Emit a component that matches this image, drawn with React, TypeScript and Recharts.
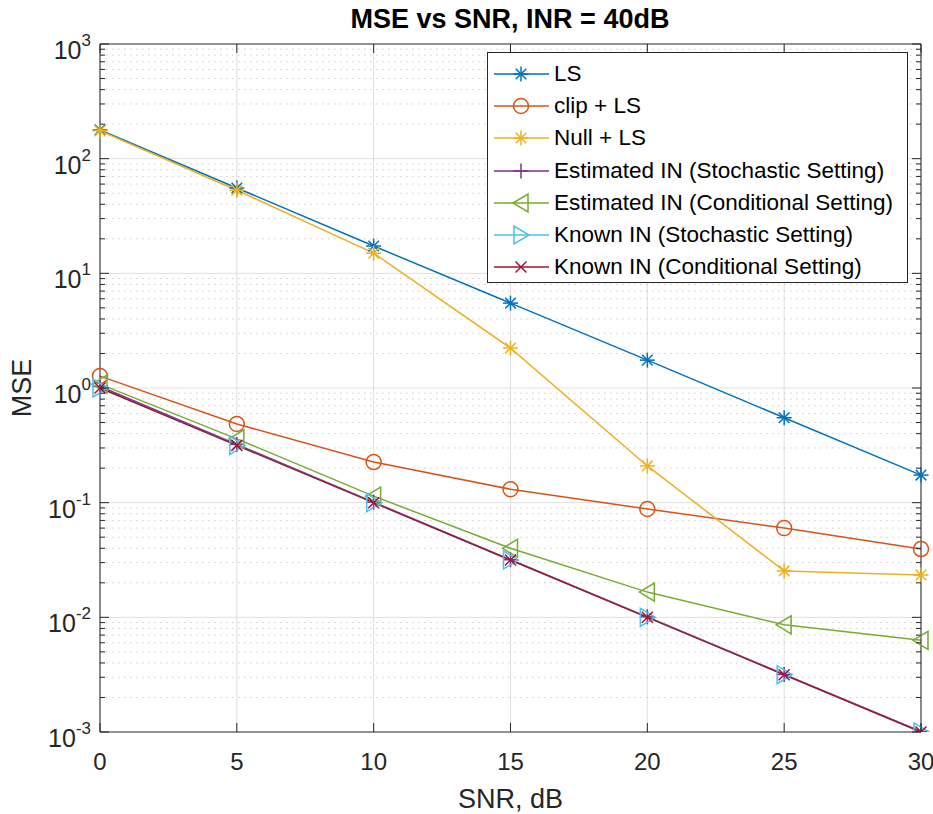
import { LineChart, Line, XAxis, YAxis, CartesianGrid, ReferenceLine, Legend } from "recharts";

const snr = [0, 5, 10, 15, 20, 25, 30];
const lsMse = [178, 55.5, 17.3, 5.5, 1.75, 0.55, 0.174];
const clipMse = [1.27, 0.485, 0.226, 0.131, 0.088, 0.06, 0.0394];
const nullMse = [175, 53, 15, 2.23, 0.209, 0.0254, 0.0234];
const estStochMse = [1.03, 0.322, 0.101, 0.0318, 0.0101, 0.00318, 0.00101];
const estCondMse = [1.08, 0.36, 0.114, 0.04, 0.0166, 0.0086, 0.0063];
const knownStochMse = [1.0, 0.316, 0.1, 0.0316, 0.01, 0.00316, 0.001];
const knownCondMse = [1.0, 0.316, 0.1, 0.0316, 0.01, 0.00316, 0.001];

const xTicks = [0, 5, 10, 15, 20, 25, 30];
const majorExps = [-3, -2, -1, 0, 1, 2, 3];
const majorTicks = majorExps.map((e) => Math.pow(10, e));
const minorTicks = majorExps.slice(0, -1).flatMap((e) =>
  [2, 3, 4, 5, 6, 7, 8, 9].map((m) => m * Math.pow(10, e))
);
const yTicks = [...majorTicks, ...minorTicks].sort((a, b) => a - b);

const FONT = '"Liberation Sans", Arial, Helvetica, sans-serif';
const AXIS = "#262626";

type SeriesDef = { key: string; name: string; color: string; shape: string; values: number[] };

const series: SeriesDef[] = [
  { key: "ls", name: "LS", color: "#0072BD", shape: "star", values: lsMse },
  { key: "clip", name: "clip + LS", color: "#D95319", shape: "circle", values: clipMse },
  { key: "nul", name: "Null + LS", color: "#EDB120", shape: "star", values: nullMse },
  { key: "estS", name: "Estimated IN (Stochastic Setting)", color: "#7E2F8E", shape: "plus", values: estStochMse },
  { key: "estC", name: "Estimated IN (Conditional Setting)", color: "#77AC30", shape: "left", values: estCondMse },
  { key: "knS", name: "Known IN (Stochastic Setting)", color: "#4DBEEE", shape: "right", values: knownStochMse },
  { key: "knC", name: "Known IN (Conditional Setting)", color: "#A2142F", shape: "x", values: knownCondMse },
];

const data = snr.map((s, i) => {
  const row: Record<string, number> = { snr: s };
  series.forEach((sr) => {
    row[sr.key] = sr.values[i];
  });
  return row;
});

function Marker({ shape, cx, cy, color }: { shape: string; cx: number; cy: number; color: string }) {
  const sw = 1.5;
  if (shape === "circle") {
    return <circle cx={cx} cy={cy} r={7.5} fill="none" stroke={color} strokeWidth={sw} />;
  }
  if (shape === "star") {
    const r = 7.5;
    const d = r * 0.7071;
    return (
      <g stroke={color} strokeWidth={sw}>
        <line x1={cx - r} y1={cy} x2={cx + r} y2={cy} />
        <line x1={cx} y1={cy - r} x2={cx} y2={cy + r} />
        <line x1={cx - d} y1={cy - d} x2={cx + d} y2={cy + d} />
        <line x1={cx - d} y1={cy + d} x2={cx + d} y2={cy - d} />
      </g>
    );
  }
  if (shape === "plus") {
    const r = 7.5;
    return (
      <g stroke={color} strokeWidth={sw}>
        <line x1={cx - r} y1={cy} x2={cx + r} y2={cy} />
        <line x1={cx} y1={cy - r} x2={cx} y2={cy + r} />
      </g>
    );
  }
  if (shape === "x") {
    const r = 5.5;
    return (
      <g stroke={color} strokeWidth={sw}>
        <line x1={cx - r} y1={cy - r} x2={cx + r} y2={cy + r} />
        <line x1={cx - r} y1={cy + r} x2={cx + r} y2={cy - r} />
      </g>
    );
  }
  if (shape === "left") {
    return (
      <polygon
        points={`${cx - 8},${cy} ${cx + 7},${cy - 9} ${cx + 7},${cy + 9}`}
        fill="none"
        stroke={color}
        strokeWidth={sw}
      />
    );
  }
  return (
    <polygon
      points={`${cx + 8},${cy} ${cx - 7},${cy - 9} ${cx - 7},${cy + 9}`}
      fill="none"
      stroke={color}
      strokeWidth={sw}
    />
  );
}

function isMajor(v: number) {
  const l = Math.log10(v);
  return Math.abs(l - Math.round(l)) < 1e-6;
}

function LeftTick(props: any) {
  const { x, y, payload } = props;
  const v = payload.value;
  const major = isMajor(v);
  const len = major ? 9 : 5;
  return (
    <g>
      <line x1={x} y1={y} x2={x + len} y2={y} stroke={AXIS} strokeWidth={1} />
      {major && (
        <text x={x - 9} y={y + 15} textAnchor="end" fontFamily={FONT} fontSize={25} fill={AXIS}>
          10
          <tspan dy={-13} fontSize={17}>
            {Math.round(Math.log10(v))}
          </tspan>
        </text>
      )}
    </g>
  );
}

function RightTick(props: any) {
  const { x, y, payload } = props;
  const len = isMajor(payload.value) ? 9 : 5;
  return <line x1={x} y1={y} x2={x - len} y2={y} stroke={AXIS} strokeWidth={1} />;
}

function BottomTick(props: any) {
  const { x, y, payload } = props;
  return (
    <g>
      <line x1={x} y1={y} x2={x} y2={y - 9} stroke={AXIS} strokeWidth={1} />
      <text x={x} y={y + 38} textAnchor="middle" fontFamily={FONT} fontSize={24} fill={AXIS}>
        {payload.value}
      </text>
    </g>
  );
}

function TopTick(props: any) {
  const { x, y } = props;
  return <line x1={x} y1={y} x2={x} y2={y + 9} stroke={AXIS} strokeWidth={1} />;
}

function LegendBox() {
  return (
    <div
      style={{
        border: "1px solid #262626",
        background: "#fff",
        padding: "5px 0 4px 0",
        fontFamily: FONT,
        fontSize: 22.5,
        color: "#000",
        boxSizing: "border-box",
        height: 231,
      }}
    >
      {series.map((s) => (
        <div key={s.key} style={{ display: "flex", alignItems: "center", height: 32.2 }}>
          <svg width={66} height={24} style={{ flex: "none" }}>
            <line x1={6} y1={12} x2={61} y2={12} stroke={s.color} strokeWidth={1.5} />
            <Marker shape={s.shape} cx={33} cy={12} color={s.color} />
          </svg>
          <span style={{ whiteSpace: "nowrap" }}>{s.name}</span>
        </div>
      ))}
    </div>
  );
}

export default function App() {
  return (
    <div style={{ position: "absolute", left: 0, top: 0, width: 933, height: 814, background: "#fff" }}>
      <div
        style={{
          position: "absolute",
          left: 0,
          width: 933,
          top: 4,
          textAlign: "center",
          paddingLeft: 87,
          boxSizing: "border-box",
          fontFamily: FONT,
          fontWeight: "bold",
          fontSize: 27,
          color: "#000",
          zIndex: 2,
        }}
      >
        MSE vs SNR, INR = 40dB
      </div>
      <LineChart width={933} height={814} data={data} margin={{ top: 43, right: 11, bottom: 52, left: 40 }}>
        <CartesianGrid xAxisId="bottom" yAxisId="left" horizontal={false} stroke="#dfdfdf" />
        {minorTicks.map((v) => (
          <ReferenceLine
            key={`mn-${v}`}
            xAxisId="bottom"
            yAxisId="left"
            y={v}
            stroke="#cdcdcd"
            strokeDasharray="1.5 4.5"
          />
        ))}
        {majorTicks.slice(1, -1).map((v) => (
          <ReferenceLine key={`mj-${v}`} xAxisId="bottom" yAxisId="left" y={v} stroke="#dfdfdf" />
        ))}
        <XAxis
          xAxisId="bottom"
          dataKey="snr"
          type="number"
          domain={[0, 30]}
          ticks={xTicks}
          height={30}
          tickSize={0}
          tickMargin={0}
          tickLine={false}
          interval={0}
          stroke={AXIS}
          tick={BottomTick}
          label={{
            content: (p: any) => (
              <text
                x={p.viewBox.x + p.viewBox.width / 2}
                y={p.viewBox.y + 76}
                textAnchor="middle"
                fontFamily={FONT}
                fontSize={27}
                fill={AXIS}
              >
                SNR, dB
              </text>
            ),
          }}
        />
        <XAxis
          xAxisId="top"
          orientation="top"
          dataKey="snr"
          type="number"
          domain={[0, 30]}
          ticks={xTicks}
          height={1}
          tickSize={0}
          tickMargin={0}
          tickLine={false}
          interval={0}
          stroke={AXIS}
          tick={TopTick}
        />
        <YAxis
          yAxisId="left"
          scale="log"
          type="number"
          domain={[0.001, 1000]}
          allowDataOverflow
          ticks={yTicks}
          width={60}
          tickSize={0}
          tickMargin={0}
          tickLine={false}
          interval={0}
          stroke={AXIS}
          tick={LeftTick}
          label={{
            content: (p: any) => (
              <text
                x={22}
                y={p.viewBox.y + p.viewBox.height / 2}
                textAnchor="middle"
                dominantBaseline="central"
                transform={`rotate(-90 22 ${p.viewBox.y + p.viewBox.height / 2})`}
                fontFamily={FONT}
                fontSize={27}
                fill={AXIS}
              >
                MSE
              </text>
            ),
          }}
        />
        <YAxis
          yAxisId="right"
          orientation="right"
          scale="log"
          type="number"
          domain={[0.001, 1000]}
          allowDataOverflow
          ticks={yTicks}
          width={1}
          tickSize={0}
          tickMargin={0}
          tickLine={false}
          interval={0}
          stroke={AXIS}
          tick={RightTick}
        />
        {series.map((s) => (
          <Line
            key={s.key}
            xAxisId="bottom"
            yAxisId="left"
            type="linear"
            dataKey={s.key}
            name={s.name}
            stroke={s.color}
            strokeWidth={1.5}
            isAnimationActive={false}
            activeDot={false}
            dot={(p: any) => (
              <Marker key={`${s.key}-${p.index}`} shape={s.shape} cx={p.cx} cy={p.cy} color={s.color} />
            )}
          />
        ))}
        <Legend
          layout="horizontal"
          verticalAlign="middle"
          align="center"
          wrapperStyle={{ position: "absolute", left: 487, top: 52, width: 421, height: 231 }}
          content={() => <LegendBox />}
        />
      </LineChart>
    </div>
  );
}
